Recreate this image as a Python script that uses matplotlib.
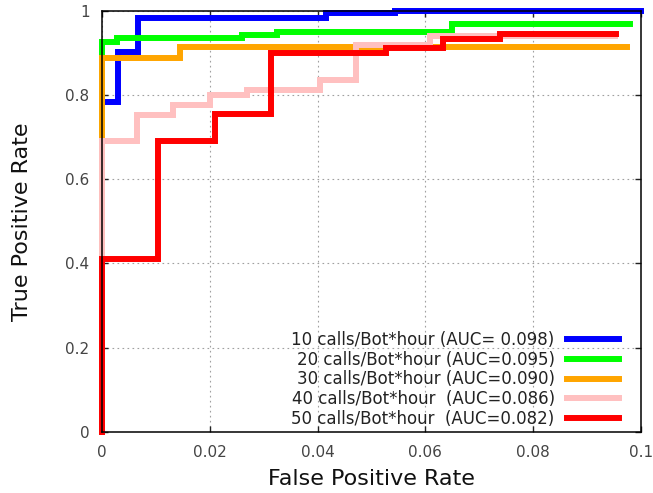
import matplotlib
matplotlib.use('Agg')
import matplotlib.pyplot as plt

# ROC step curves (FPR, TPR)
fpr_10 = [0, 0, 0.0030, 0.0030, 0.0066, 0.0066, 0.0416, 0.0416, 0.0544, 0.0544, 0.1]
tpr_10 = [0, 0.784, 0.784, 0.902, 0.902, 0.983, 0.983, 0.993, 0.993, 1.0, 1.0]

fpr_20 = [0, 0, 0.0028, 0.0028, 0.026, 0.026, 0.0325, 0.0325, 0.065, 0.065, 0.098]
tpr_20 = [0, 0.925, 0.925, 0.935, 0.935, 0.943, 0.943, 0.950, 0.950, 0.967, 0.967]

fpr_30 = [0, 0, 0.0145, 0.0145, 0.0974]
tpr_30 = [0, 0.887, 0.887, 0.913, 0.913]

fpr_40 = [0, 0, 0.0065, 0.0065, 0.0132, 0.0132, 0.020, 0.020, 0.0269, 0.0269,
          0.0404, 0.0404, 0.0471, 0.0471, 0.0609, 0.0609, 0.0952]
tpr_40 = [0, 0.690, 0.690, 0.751, 0.751, 0.776, 0.776, 0.799, 0.799, 0.812,
          0.812, 0.836, 0.836, 0.917, 0.917, 0.940, 0.940]

fpr_50 = [0, 0, 0.0104, 0.0104, 0.021, 0.021, 0.0314, 0.0314, 0.0527, 0.0527,
          0.0633, 0.0633, 0.0738, 0.0738, 0.0954]
tpr_50 = [0, 0.411, 0.411, 0.691, 0.691, 0.755, 0.755, 0.900, 0.900, 0.911,
          0.911, 0.933, 0.933, 0.945, 0.945]

labels = ["10 calls/Bot*hour (AUC= 0.098)",
          "20 calls/Bot*hour (AUC=0.095)",
          "30 calls/Bot*hour (AUC=0.090)",
          "40 calls/Bot*hour  (AUC=0.086)",
          "50 calls/Bot*hour  (AUC=0.082)"]
colors = ['#0000ff', '#00ff00', '#ffa500', '#ffc0c0', '#ff0000']

curves = [(fpr_10, tpr_10), (fpr_20, tpr_20), (fpr_30, tpr_30),
          (fpr_40, tpr_40), (fpr_50, tpr_50)]

fig = plt.figure(figsize=(6.53, 4.93), dpi=100)
ax = fig.add_axes([0.1562, 0.1237, 0.8254, 0.855])

for (x, y), lab, c in zip(curves, labels, colors):
    ax.plot(x, y, color=c, lw=4.3, label=lab, clip_on=False,
            solid_joinstyle='miter')

ax.set_xlim(0, 0.1)
ax.set_ylim(0, 1)
ax.set_xticks([0, 0.02, 0.04, 0.06, 0.08, 0.1])
ax.set_xticklabels(['0', '0.02', '0.04', '0.06', '0.08', '0.1'])
ax.set_yticks([0, 0.2, 0.4, 0.6, 0.8, 1])
ax.set_yticklabels(['0', '0.2', '0.4', '0.6', '0.8', '1'])
ax.tick_params(direction='in', length=4, width=1, top=True, right=True,
               labelsize=11, pad=9, colors='#222222')
for t in ax.get_xticklabels() + ax.get_yticklabels():
    t.set_color('#444444')
ax.grid(True, color='#a0a0a0', lw=0.8, linestyle=(0, (1.5, 3)))
for s in ax.spines.values():
    s.set_linewidth(1.1)
    s.set_zorder(5)

ax.set_xlabel('False Positive Rate', fontsize=16, labelpad=7, color='#111111')
ax.set_ylabel('True Positive Rate', fontsize=16, labelpad=24, color='#111111')

leg = ax.legend(loc='lower right', bbox_to_anchor=(0.959, 0.01),
                frameon=False, markerfirst=False, fontsize=12,
                handlelength=3.1, handletextpad=0.75, labelspacing=0.1,
                borderpad=0, borderaxespad=0)
for t in leg.get_texts():
    t.set_color('#222222')
try:
    for col in leg._legend_handle_box.get_children():
        col.align = 'right'
except Exception:
    pass

fig.savefig('out.png', dpi=100)
